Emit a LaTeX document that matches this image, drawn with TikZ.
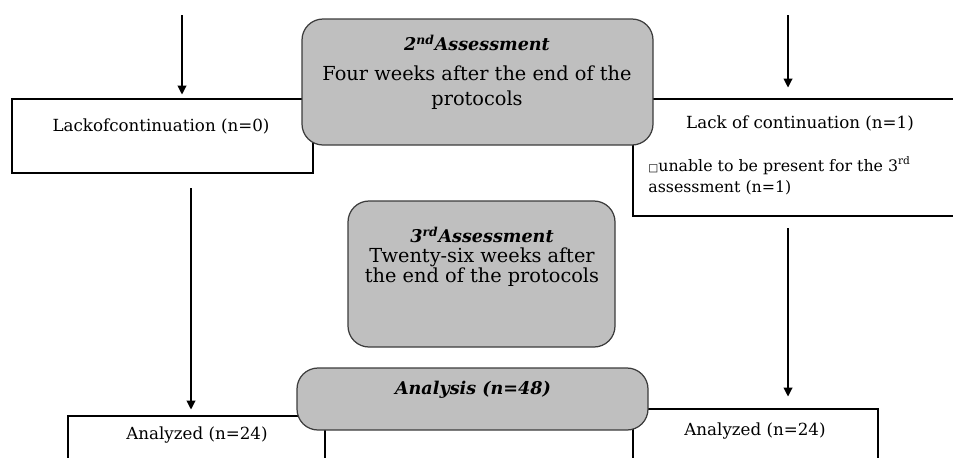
\documentclass[tikz,border=0pt]{standalone}
\usepackage{fontspec}
\setmainfont{DejaVu Serif}
\newfontfamily\boxsym{DejaVu Sans}
\definecolor{stagegray}{HTML}{BFBFBF}
\definecolor{stageedge}{HTML}{3C3C3C}
\usetikzlibrary{arrows.meta}

\begin{document}
\begin{tikzpicture}[
  outbox/.style={draw,fill=white,line width=0.6pt,inner sep=0pt},
  stagebox/.style={draw=stageedge,fill=stagegray,line width=0.7pt,rounded corners=0.42cm,inner sep=0pt},
  flowarrow/.style={-{Triangle[width=5pt,length=5pt]},line width=0.6pt},
  smalltxt/.style={font=\fontsize{9.5}{12}\selectfont,inner sep=0pt},
  stagetxt/.style={font=\fontsize{11}{14}\selectfont,align=center,inner sep=0pt},
  headtxt/.style={font=\fontsize{10}{12}\selectfont\bfseries\itshape,inner sep=0pt}]
  \useasboundingbox (0,0) rectangle (19.06,-9.14);
  % white boxes (drawn first, the stages lie on top)
  \node[outbox,minimum width=6.02cm,minimum height=1.48cm] (lack0) at (3.25,-2.72) {};
  \node[outbox,minimum width=6.54cm,minimum height=2.34cm] (lack1) at (15.93,-3.15) {};
  \node[outbox,minimum width=5.14cm,minimum height=1.08cm] (an1) at (3.93,-8.86) {};
  \node[outbox,minimum width=4.90cm,minimum height=1.22cm] (an2) at (15.11,-8.79) {};
  \node[smalltxt] (lack0t) at (3.22,-2.52) {Lackofcontinuation (n=0)};
  \node[smalltxt] (lack1t) at (16.0,-2.46) {Lack of continuation (n=1)};
  \node[smalltxt,font=\fontsize{9}{12}\selectfont,align=left,anchor=west] (lack1why) at (12.96,-3.51)
    {{\boxsym\fontsize{6}{6}\selectfont □}unable to be present for the 3\textsuperscript{rd}\\assessment (n=1)};
  \node[smalltxt] (an1t) at (3.94,-8.70) {Analyzed (n=24)};
  \node[smalltxt] (an2t) at (15.1,-8.62) {Analyzed (n=24)};
  % stages
  \node[stagebox,minimum width=7.02cm,minimum height=2.52cm] (stage2) at (9.55,-1.64) {};
  \node[stagebox,minimum width=5.34cm,minimum height=2.92cm] (stage3) at (9.63,-5.48) {};
  \node[stagebox,minimum width=7.02cm,minimum height=1.24cm] (analysis) at (9.45,-7.98) {};
  \node[headtxt] (stage2h) at (9.54,-0.86) {2\textsuperscript{nd}Assessment};
  \node[stagetxt] (stage2t) at (9.54,-1.75) {Four weeks after the end of the\\protocols};
  \node[headtxt] (stage3h) at (9.64,-4.70) {3\textsuperscript{rd}Assessment};
  \node[stagetxt,font=\fontsize{11}{11.5}\selectfont] (stage3t) at (9.64,-5.34) {Twenty-six weeks after\\the end of the protocols};
  \node[headtxt] (analysist) at (9.46,-7.80) {Analysis (n=48)};
  % arrows
  \coordinate (in0) at (3.64,-0.30);
  \coordinate (in1) at (15.76,-0.30);
  \coordinate (out0) at (3.82,-3.76);
  \coordinate (out1) at (15.76,-4.56);
  \draw[flowarrow,shorten >=0.08cm] (in0) -- (in0 |- lack0.north);
  \draw[flowarrow,shorten >=0.22cm] (in1) -- (in1 |- lack1.north);
  \draw[flowarrow,shorten >=0.12cm] (out0) -- (out0 |- an1.north);
  \draw[flowarrow,shorten >=0.24cm] (out1) -- (out1 |- an2.north);
\end{tikzpicture}
\end{document}
